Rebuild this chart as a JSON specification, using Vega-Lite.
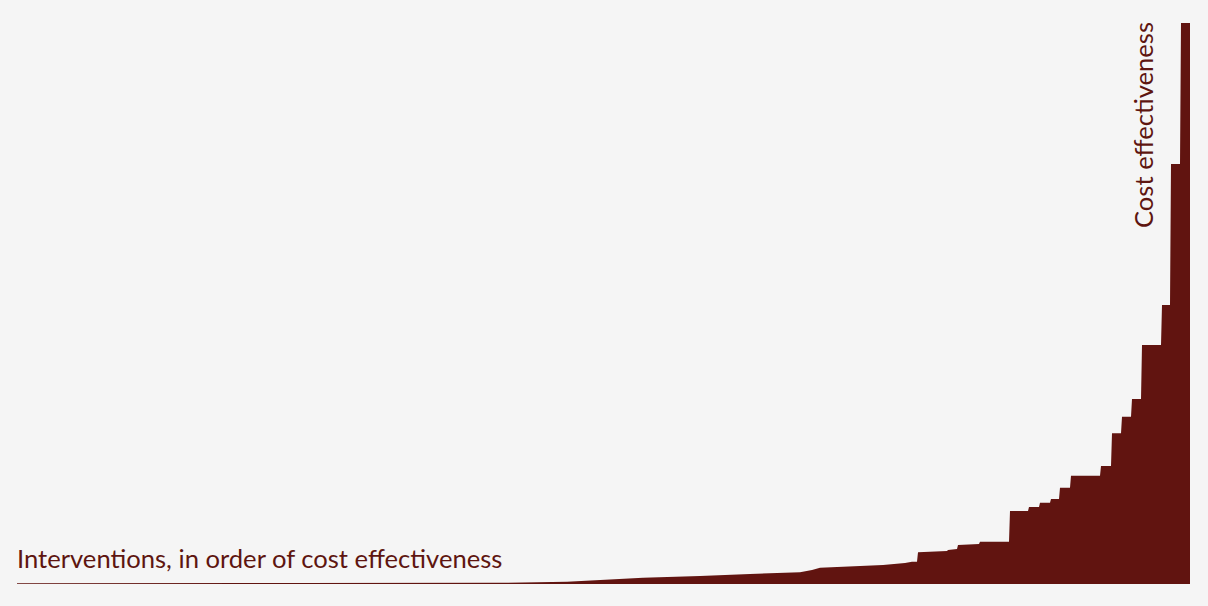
{
  "$schema": "https://vega.github.io/schema/vega-lite/v6.json",
  "width": 1173,
  "height": 562,
  "autosize": {"type": "none"},
  "padding": {"left": 17, "top": 22, "right": 18, "bottom": 22},
  "background": "#f5f5f5",
  "config": {"view": {"stroke": null}},
  "datasets": {
    "curve": [
      {"rank": 17, "ce": 0.8}, {"rank": 300, "ce": 0.9}, {"rank": 500, "ce": 1.2},
      {"rank": 567, "ce": 2.3}, {"rank": 643, "ce": 6.3}, {"rank": 700, "ce": 8},
      {"rank": 750, "ce": 10}, {"rank": 800, "ce": 11.7}, {"rank": 812, "ce": 14},
      {"rank": 820, "ce": 16.3}, {"rank": 883, "ce": 19}, {"rank": 905, "ce": 21},
      {"rank": 912, "ce": 22.3}, {"rank": 917, "ce": 22.3}, {"rank": 918, "ce": 31.7},
      {"rank": 947, "ce": 33}, {"rank": 948, "ce": 34}, {"rank": 957, "ce": 35},
      {"rank": 958, "ce": 39}, {"rank": 979, "ce": 40}, {"rank": 980, "ce": 42.3},
      {"rank": 1009, "ce": 42.3}, {"rank": 1010, "ce": 73}, {"rank": 1028, "ce": 73},
      {"rank": 1029, "ce": 77}, {"rank": 1039, "ce": 77}, {"rank": 1040, "ce": 81.3},
      {"rank": 1050, "ce": 81.3}, {"rank": 1051, "ce": 85}, {"rank": 1059, "ce": 85},
      {"rank": 1060, "ce": 96.3}, {"rank": 1070, "ce": 96.3}, {"rank": 1071, "ce": 108.3},
      {"rank": 1100, "ce": 108.3}, {"rank": 1101, "ce": 118}, {"rank": 1111, "ce": 118},
      {"rank": 1112, "ce": 150.7}, {"rank": 1121, "ce": 150.7}, {"rank": 1122, "ce": 167.3},
      {"rank": 1131, "ce": 167.3}, {"rank": 1132, "ce": 185}, {"rank": 1141, "ce": 185},
      {"rank": 1142, "ce": 239}, {"rank": 1161, "ce": 239}, {"rank": 1162, "ce": 279},
      {"rank": 1170, "ce": 279}, {"rank": 1171, "ce": 420}, {"rank": 1180, "ce": 420},
      {"rank": 1181, "ce": 561}, {"rank": 1190, "ce": 561}
    ],
    "labels": [
      {"rank": 17, "ce": 16, "label": "Interventions, in order of cost effectiveness", "kind": "x"},
      {"rank": 1153, "ce": 562, "label": "Cost effectiveness", "kind": "y"}
    ]
  },
  "layer": [
    {
      "data": {"name": "curve"},
      "mark": {"type": "area", "color": "#611410", "interpolate": "linear"},
      "encoding": {
        "x": {"field": "rank", "type": "quantitative", "scale": {"domain": [17, 1190], "nice": false, "zero": false}, "axis": null},
        "y": {"field": "ce", "type": "quantitative", "scale": {"domain": [0, 562], "nice": false}, "axis": null}
      }
    },
    {
      "data": {"name": "labels"},
      "transform": [{"filter": "datum.kind == 'x'"}],
      "mark": {"type": "text", "align": "left", "baseline": "alphabetic", "font": "Lato", "fontSize": 25.6, "color": "#5e1510"},
      "encoding": {
        "x": {"field": "rank", "type": "quantitative"},
        "y": {"field": "ce", "type": "quantitative"},
        "text": {"field": "label"}
      }
    },
    {
      "data": {"name": "labels"},
      "transform": [{"filter": "datum.kind == 'y'"}],
      "mark": {"type": "text", "align": "right", "baseline": "alphabetic", "angle": 270, "font": "Lato", "fontSize": 25.6, "color": "#5e1510"},
      "encoding": {
        "x": {"field": "rank", "type": "quantitative"},
        "y": {"field": "ce", "type": "quantitative"},
        "text": {"field": "label"}
      }
    }
  ]
}
